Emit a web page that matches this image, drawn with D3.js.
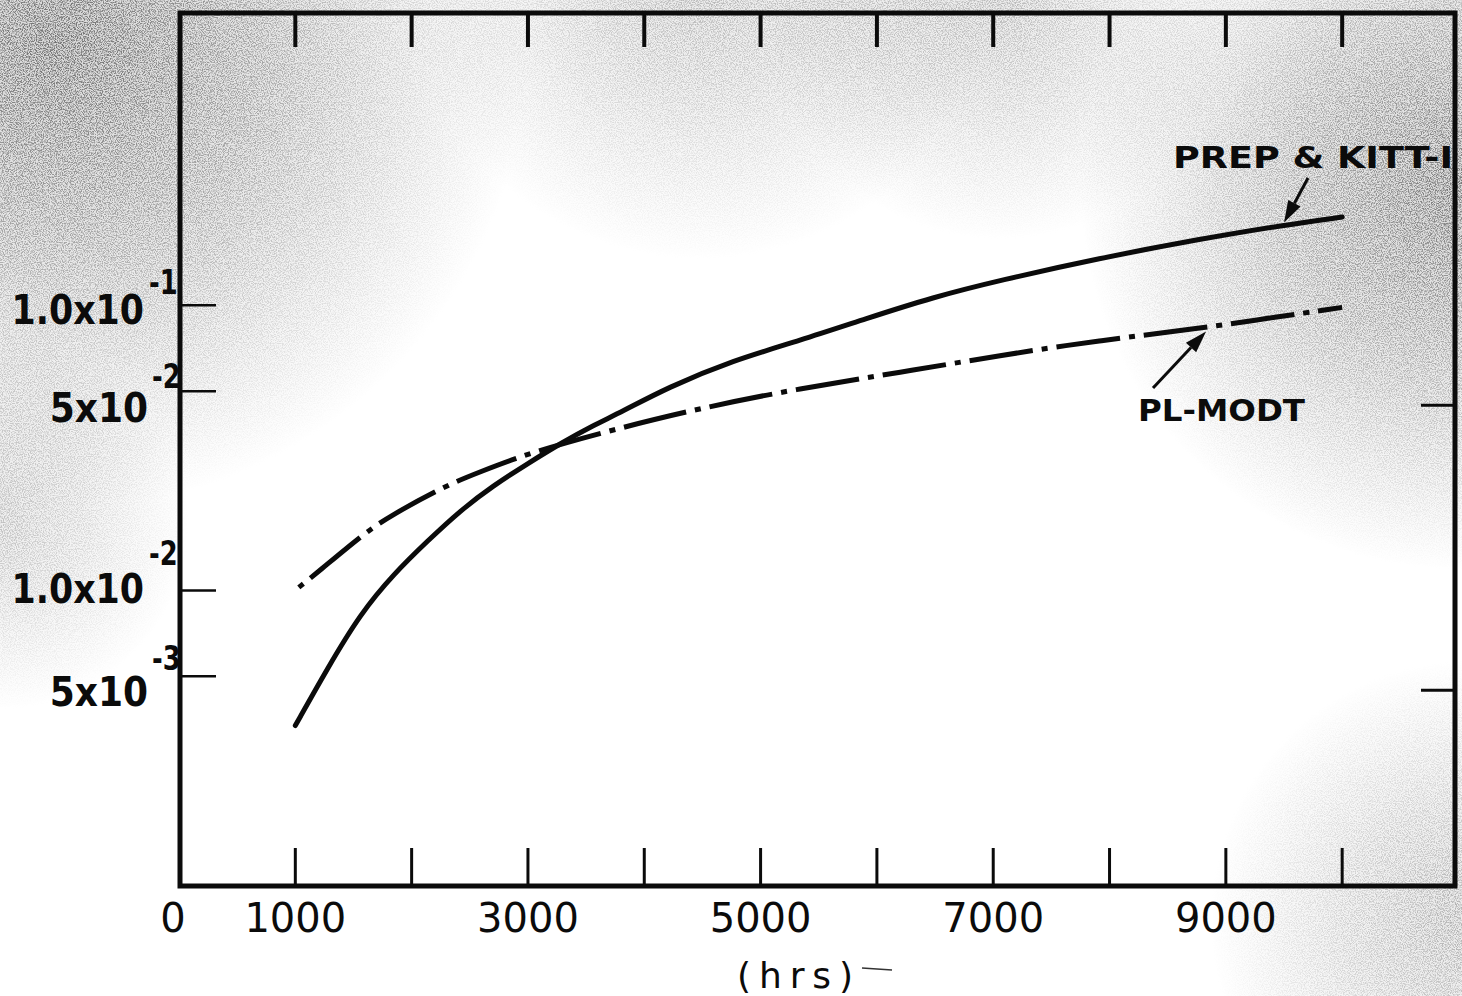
<!DOCTYPE html>
<html lang="en">
<head>
  <meta charset="utf-8"/>
  <title>PREP &amp; KITT-I vs PL-MODT</title>
  <style>
    html, body { margin: 0; padding: 0; background: #fff; }
    svg { display: block; }
    .lbl { font-family: "DejaVu Sans", "Liberation Sans", sans-serif; fill: #0b0b0b; }
  </style>
</head>
<body>
<svg id="chart" width="1462" height="996"></svg>

<script src="https://cdn.jsdelivr.net/npm/d3@7/dist/d3.min.js"></script>
<script>

  // values (hours, ratio)
  const hoursSolid = [1000, 1280, 1560, 1850, 2140, 2420, 2700, 3000, 3280, 3560, 3800, 4200,
    4760, 5340, 5910, 6480, 7060, 7910, 8770, 9490, 10000];
  const prepKitt = [0.00336, 0.00537, 0.0083, 0.01148, 0.01496, 0.0191, 0.0233, 0.0279, 0.0328,
    0.0379, 0.0422, 0.0515, 0.0641, 0.0753, 0.0899, 0.1067, 0.1225, 0.1462, 0.1706, 0.191, 0.204];

  const hoursDash = [1030, 1190, 1590, 1820, 2290, 2570, 3020, 3770, 4480, 5340, 6200, 7060,
    7910, 8770, 9350, 10000];
  const plModt = [0.01026, 0.01156, 0.01585, 0.01832, 0.0233, 0.0259, 0.0305, 0.037, 0.0436,
    0.0512, 0.0582, 0.0668, 0.0753, 0.083, 0.0899, 0.0984];

  const xTickValues = [1000, 2000, 3000, 4000, 5000, 6000, 7000, 8000, 9000, 10000];
  const xTickLabels = [0, 1000, 3000, 5000, 7000, 9000];

  const yTickValues = [0.1, 0.05, 0.01, 0.005];
  const yMantissa = ['1.0x10', '5x10', '1.0x10', '5x10'];
  const yExponent = ['-1', '-2', '-2', '-3'];
  const yRightTicks = [0.05, 0.005];

  const seriesNames = ['PREP & KITT-I', 'PL-MODT'];

  // frame
  const frameLeft = 180, frameRight = 1455, frameTop = 13, frameBottom = 886;

  const svg = d3.select('#chart');
  const defs = svg.append('defs');

  // scanned paper look: grey grain in the corners, white middle
  let grain = defs.append('filter').attr('id', 'grain')
    .attr('x', 0).attr('y', 0).attr('width', '100%').attr('height', '100%');
  grain.append('feTurbulence')
    .attr('type', 'fractalNoise').attr('baseFrequency', 0.85)
    .attr('numOctaves', 2).attr('seed', 7);
  grain.append('feColorMatrix').attr('type', 'matrix')
    .attr('values', '0 0 0 0 0  0 0 0 0 0  0 0 0 0 0  4 0 0 0 -1.65');

  // grey blobs: cx, cy, r, strength
  let blobs = [
    [60, 40, 470, 0.9], [1460, 190, 380, 0.85], [700, -40, 300, 0.5],
    [1470, 920, 260, 0.5], [1000, 0, 240, 0.45], [0, 520, 190, 0.4]
  ];
  let mask = defs.append('mask').attr('id', 'paperMask');
  mask.append('rect').attr('width', 1462).attr('height', 996).attr('fill', '#000');
  blobs.forEach(function (b, i) {
    let g = defs.append('radialGradient').attr('id', 'blob' + i)
      .attr('gradientUnits', 'userSpaceOnUse')
      .attr('cx', b[0]).attr('cy', b[1]).attr('r', b[2]);
    g.append('stop').attr('offset', 0).attr('stop-color', '#fff').attr('stop-opacity', b[3]);
    g.append('stop').attr('offset', 0.45).attr('stop-color', '#fff').attr('stop-opacity', b[3] * 0.6);
    g.append('stop').attr('offset', 1).attr('stop-color', '#fff').attr('stop-opacity', 0);
    mask.append('rect').attr('width', 1462).attr('height', 996).attr('fill', `url(#blob${i})`);
  });

  svg.append('rect').attr('width', 1462).attr('height', 996).attr('fill', '#fff');
  let paper = svg.append('g').attr('mask', 'url(#paperMask)');
  paper.append('rect').attr('width', 1462).attr('height', 996).attr('fill', '#d4d4d4');
  paper.append('rect').attr('width', 1462).attr('height', 996)
    .attr('filter', 'url(#grain)').attr('opacity', 0.55);

  // scales
  let x = d3.scaleLinear().domain([0, 10970]).range([179, frameRight]);
  let y = d3.scaleLog().domain([0.00092, 1.06]).range([frameBottom, frameTop]);

  let ink = '#0b0b0b';

  // frame
  svg.append('rect')
    .attr('x', frameLeft).attr('y', frameTop)
    .attr('width', frameRight - frameLeft).attr('height', frameBottom - frameTop)
    .attr('fill', 'none').attr('stroke', ink).attr('stroke-width', 5);

  // bottom ticks (pointing up) and top ticks (pointing down)
  svg.append('g').selectAll('line')
    .data(xTickValues).join('line')
    .attr('x1', d => x(d)).attr('x2', d => x(d))
    .attr('y1', frameBottom).attr('y2', frameBottom - 38)
    .attr('stroke', ink).attr('stroke-width', 3);

  svg.append('g').selectAll('line')
    .data(xTickValues).join('line')
    .attr('x1', d => x(d)).attr('x2', d => x(d))
    .attr('y1', frameTop).attr('y2', frameTop + 34)
    .attr('stroke', ink).attr('stroke-width', 4);

  // left ticks and right ticks
  svg.append('g').selectAll('line')
    .data(yTickValues).join('line')
    .attr('x1', frameLeft).attr('x2', frameLeft + 36)
    .attr('y1', d => y(d)).attr('y2', d => y(d))
    .attr('stroke', ink).attr('stroke-width', 2.5);

  svg.append('g').selectAll('line')
    .data(yRightTicks).join('line')
    .attr('x1', frameRight).attr('x2', frameRight - 34)
    .attr('y1', d => y(d) + 14).attr('y2', d => y(d) + 14)
    .attr('stroke', ink).attr('stroke-width', 3);

  // x labels
  svg.append('g').selectAll('text')
    .data(xTickLabels).join('text')
    .attr('class', 'lbl')
    .attr('x', d => x(d) - (d === 0 ? 6 : 0))
    .attr('y', 932)
    .attr('text-anchor', 'middle')
    .attr('font-size', 40)
    .text(d => d);

  svg.append('text')
    .attr('class', 'lbl')
    .attr('x', 737).attr('y', 988)
    .attr('font-size', 36)
    .attr('textLength', 116).attr('lengthAdjust', 'spacing')
    .text('(hrs)');
  svg.append('line')
    .attr('x1', 862).attr('x2', 892).attr('y1', 968).attr('y2', 970)
    .attr('stroke', '#333').attr('stroke-width', 1.5);

  // y labels: mantissa and raised exponent, placed like the hand lettering
  let mainNudge = [19, 31, 12, 30];
  let expNudge = [-11, -3, -26, -6];
  yTickValues.forEach(function (v, i) {
    let wide = yMantissa[i].startsWith('1.0');
    svg.append('text')
      .attr('class', 'lbl')
      .attr('transform', `translate(${wide ? 144 : 148},${y(v) + mainNudge[i]}) scale(${wide ? 0.87 : 0.9},1)`)
      .attr('text-anchor', 'end')
      .attr('font-size', 40).attr('font-weight', 'bold')
      .text(yMantissa[i]);
    svg.append('text')
      .attr('class', 'lbl')
      .attr('transform', `translate(${wide ? 149 : 152},${y(v) + expNudge[i]}) scale(0.78,1)`)
      .attr('font-size', 33).attr('font-weight', 'bold')
      .text(yExponent[i]);
  });

  // curves
  let line = d3.line()
    .x(d => x(d[0]))
    .y(d => y(d[1]))
    .curve(d3.curveBasis);

  svg.append('path')
    .datum(d3.zip(hoursSolid, prepKitt))
    .attr('d', line)
    .attr('fill', 'none').attr('stroke', ink)
    .attr('stroke-width', 5).attr('stroke-linecap', 'round');

  svg.append('path')
    .datum(d3.zip(hoursDash, plModt))
    .attr('d', line)
    .attr('fill', 'none').attr('stroke', ink)
    .attr('stroke-width', 5)
    .attr('stroke-dasharray', '6 9 64 9');

  // annotations with arrows
  function arrow(x1, y1, x2, y2) {
    let ang = Math.atan2(y2 - y1, x2 - x1);
    let len = 22, half = 7;
    let bx = x2 - len * Math.cos(ang), by = y2 - len * Math.sin(ang);
    svg.append('line')
      .attr('x1', x1).attr('y1', y1).attr('x2', bx).attr('y2', by)
      .attr('stroke', ink).attr('stroke-width', 3);
    svg.append('path')
      .attr('d', `M${x2},${y2}L${bx + half * Math.sin(ang)},${by - half * Math.cos(ang)}`
        + `L${bx - half * Math.sin(ang)},${by + half * Math.cos(ang)}Z`)
      .attr('fill', ink);
  }

  svg.append('text')
    .attr('class', 'lbl')
    .attr('x', 1173).attr('y', 168)
    .attr('font-size', 31).attr('font-weight', 'bold')
    .attr('textLength', 280).attr('lengthAdjust', 'spacingAndGlyphs')
    .text(seriesNames[0]);
  arrow(1308, 178, x(9500), y(0.192) - 2);

  svg.append('text')
    .attr('class', 'lbl')
    .attr('x', 1138).attr('y', 421)
    .attr('font-size', 31).attr('font-weight', 'bold')
    .attr('textLength', 167).attr('lengthAdjust', 'spacingAndGlyphs')
    .text(seriesNames[1]);
  arrow(1153, 388, x(8830), y(0.0837) + 4);

</script>
</body>
</html>
